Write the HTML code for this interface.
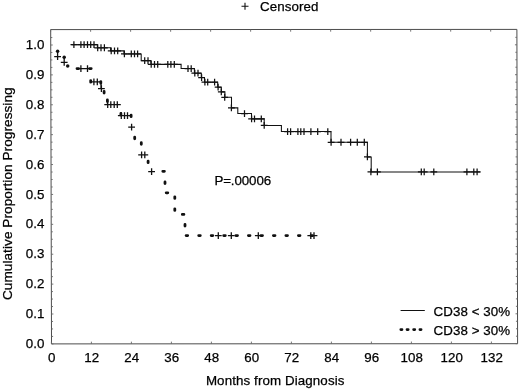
<!DOCTYPE html>
<html><head><meta charset="utf-8"><title>Cumulative Proportion Progressing</title>
<style>html,body{margin:0;padding:0;background:#fff}svg{display:block}text{font-family:"Liberation Sans",Arial,Helvetica,sans-serif;font-size:13.33px;fill:#000;stroke:#000;stroke-width:0.25px}</style></head><body>
<svg width="520" height="389" viewBox="0 0 520 389">
<rect width="520" height="389" fill="#fff"/>
<path d="M50.7 29.6L516.9 29.4L517.6 343.7L51.5 343.9Z" fill="none" stroke="#4c4c4c" stroke-width="1"/>
<path d="M51.40 343.90v-2.2M50.60 29.60v2.2M91.40 343.88v-2.2M90.61 29.58v2.2M131.40 343.87v-2.2M130.62 29.57v2.2M171.40 343.85v-2.2M170.63 29.55v2.2M211.40 343.83v-2.2M210.63 29.53v2.2M251.40 343.81v-2.2M250.64 29.51v2.2M291.40 343.80v-2.2M290.65 29.50v2.2M331.40 343.78v-2.2M330.66 29.48v2.2M371.40 343.76v-2.2M370.67 29.46v2.2M411.40 343.75v-2.2M410.68 29.45v2.2M451.40 343.73v-2.2M450.69 29.43v2.2M491.40 343.71v-2.2M490.69 29.41v2.2M51.50 343.90h2.0M517.60 343.70h-2.0M51.48 336.43h1.6M517.58 336.23h-1.6M51.46 328.95h1.6M517.57 328.75h-1.6M51.44 321.48h1.6M517.55 321.28h-1.6M51.42 314.01h2.0M517.53 313.81h-2.0M51.40 306.54h1.6M517.52 306.34h-1.6M51.39 299.06h1.6M517.50 298.87h-1.6M51.37 291.59h1.6M517.48 291.39h-1.6M51.35 284.12h2.0M517.47 283.92h-2.0M51.33 276.65h1.6M517.45 276.45h-1.6M51.31 269.18h1.6M517.43 268.98h-1.6M51.29 261.70h1.6M517.42 261.50h-1.6M51.27 254.23h2.0M517.40 254.03h-2.0M51.25 246.76h1.6M517.38 246.56h-1.6M51.23 239.28h1.6M517.37 239.09h-1.6M51.21 231.81h1.6M517.35 231.61h-1.6M51.20 224.34h2.0M517.33 224.14h-2.0M51.18 216.87h1.6M517.32 216.67h-1.6M51.16 209.39h1.6M517.30 209.20h-1.6M51.14 201.92h1.6M517.28 201.72h-1.6M51.12 194.45h2.0M517.27 194.25h-2.0M51.10 186.98h1.6M517.25 186.78h-1.6M51.08 179.50h1.6M517.23 179.31h-1.6M51.06 172.03h1.6M517.22 171.83h-1.6M51.04 164.56h2.0M517.20 164.36h-2.0M51.02 157.09h1.6M517.18 156.89h-1.6M51.01 149.61h1.6M517.17 149.42h-1.6M50.99 142.14h1.6M517.15 141.94h-1.6M50.97 134.67h2.0M517.13 134.47h-2.0M50.95 127.20h1.6M517.12 127.00h-1.6M50.93 119.73h1.6M517.10 119.53h-1.6M50.91 112.25h1.6M517.08 112.05h-1.6M50.89 104.78h2.0M517.07 104.58h-2.0M50.87 97.31h1.6M517.05 97.11h-1.6M50.85 89.84h1.6M517.03 89.64h-1.6M50.83 82.36h1.6M517.02 82.16h-1.6M50.82 74.89h2.0M517.00 74.69h-2.0M50.80 67.42h1.6M516.98 67.22h-1.6M50.78 59.95h1.6M516.97 59.75h-1.6M50.76 52.47h1.6M516.95 52.27h-1.6M50.74 45.00h2.0M516.93 44.80h-2.0M50.72 37.53h1.6M516.92 37.33h-1.6" stroke="#666" stroke-width="0.9" fill="none"/>
<text x="44.3" y="348.0" text-anchor="end">0.0</text>
<text x="44.3" y="318.1" text-anchor="end">0.1</text>
<text x="44.3" y="288.2" text-anchor="end">0.2</text>
<text x="44.3" y="258.3" text-anchor="end">0.3</text>
<text x="44.3" y="228.4" text-anchor="end">0.4</text>
<text x="44.3" y="198.6" text-anchor="end">0.5</text>
<text x="44.3" y="168.7" text-anchor="end">0.6</text>
<text x="44.3" y="138.8" text-anchor="end">0.7</text>
<text x="44.3" y="108.9" text-anchor="end">0.8</text>
<text x="44.3" y="79.0" text-anchor="end">0.9</text>
<text x="44.3" y="49.1" text-anchor="end">1.0</text>
<text x="51.7" y="361.5" text-anchor="middle">0</text>
<text x="91.7" y="361.5" text-anchor="middle">12</text>
<text x="131.7" y="361.5" text-anchor="middle">24</text>
<text x="171.7" y="361.5" text-anchor="middle">36</text>
<text x="211.7" y="361.5" text-anchor="middle">48</text>
<text x="251.7" y="361.5" text-anchor="middle">60</text>
<text x="291.7" y="361.5" text-anchor="middle">72</text>
<text x="331.7" y="361.5" text-anchor="middle">84</text>
<text x="371.7" y="361.5" text-anchor="middle">96</text>
<text x="411.7" y="361.5" text-anchor="middle">108</text>
<text x="451.7" y="361.5" text-anchor="middle">120</text>
<text x="491.7" y="361.5" text-anchor="middle">132</text>
<text x="275.2" y="384.6" text-anchor="middle" style="letter-spacing:0.11px">Months from Diagnosis</text>
<text transform="translate(12.3 193.7) rotate(-90)" text-anchor="middle" style="font-size:13.6px;letter-spacing:0.06px">Cumulative Proportion Progressing</text>
<text x="260.0" y="11.2" style="letter-spacing:0.08px">Censored</text>
<path d="M241.5 6.3h7M245 2.8v7" stroke="#111" stroke-width="1.1" fill="none"/>
<text x="214.4" y="185.2" style="letter-spacing:-0.1px">P=.00006</text>
<text x="433.6" y="316.4" style="letter-spacing:0.07px">CD38 &lt; 30%</text>
<text x="433.6" y="335.4" style="letter-spacing:0.07px">CD38 &gt; 30%</text>
<path d="M400.6 310.5H424.8" stroke="#111" stroke-width="1" fill="none"/>
<path d="M400.8 329.6h1.2M407 329.6h1.2M413.6 329.6h1.2M419.9 329.6h1.2" stroke="#111" stroke-width="2.7" stroke-linecap="round" fill="none"/>
<g transform="translate(0 0.25)"><path d="M71.5 44.4H97.4V47.5H110.6V50.6H124V53.7H141.2V60.4H150.9V64.1H181.1V68.3H194.4V72.9H201.3V77.3H204.5V81.9H217.7V86.9H221.3V91.6H224.9V97H231.5V107.6H237.8V113.3H251.5V118.6H264.2V125.2H281.4V131.3H331V142H367.4V156.7H371.2V171.7H480.4" stroke="#111" stroke-width="1.05" fill="none"/>
<path d="M70.5 44.4h6.8M73.9 41.0v6.8M77.5 44.4h6.8M80.9 41.0v6.8M80.7 44.4h6.8M84.1 41.0v6.8M84.1 44.4h6.8M87.5 41.0v6.8M87.3 44.4h6.8M90.7 41.0v6.8M90.6 44.4h6.8M94 41.0v6.8M94.3 47.5h6.8M97.7 44.1v6.8M97.6 47.5h6.8M101 44.1v6.8M101.0 47.5h6.8M104.4 44.1v6.8M107.8 50.6h6.8M111.2 47.2v6.8M111.1 50.6h6.8M114.5 47.2v6.8M114.3 50.6h6.8M117.7 47.2v6.8M121.0 53.7h6.8M124.4 50.3v6.8M127.9 53.7h6.8M131.3 50.3v6.8M131.1 53.7h6.8M134.5 50.3v6.8M134.2 53.7h6.8M137.6 50.3v6.8M141.3 60.4h6.8M144.7 57.0v6.8M144.6 60.4h6.8M148 57.0v6.8M147.8 64.1h6.8M151.2 60.7v6.8M151.1 64.1h6.8M154.5 60.7v6.8M154.3 64.1h6.8M157.7 60.7v6.8M164.4 64.1h6.8M167.8 60.7v6.8M167.5 64.1h6.8M170.9 60.7v6.8M170.9 64.1h6.8M174.3 60.7v6.8M184.6 68.3h6.8M188 64.9v6.8M187.8 68.3h6.8M191.2 64.9v6.8M191.4 72.9h6.8M194.8 69.5v6.8M194.6 72.9h6.8M198 69.5v6.8M198.2 77.3h6.8M201.6 73.9v6.8M201.5 81.9h6.8M204.9 78.5v6.8M204.3 81.9h6.8M207.7 78.5v6.8M211.2 81.9h6.8M214.6 78.5v6.8M214.7 86.9h6.8M218.1 83.5v6.8M217.9 91.6h6.8M221.3 88.2v6.8M221.3 97h6.8M224.7 93.6v6.8M228.0 107.6h6.8M231.4 104.2v6.8M241.1 113.3h6.8M244.5 109.9v6.8M248.2 118.6h6.8M251.6 115.2v6.8M251.1 118.6h6.8M254.5 115.2v6.8M257.9 118.6h6.8M261.3 115.2v6.8M260.8 125.2h6.8M264.2 121.8v6.8M284.2 131.3h6.8M287.6 127.9v6.8M287.2 131.3h6.8M290.6 127.9v6.8M294.5 131.3h6.8M297.9 127.9v6.8M297.4 131.3h6.8M300.8 127.9v6.8M300.6 131.3h6.8M304 127.9v6.8M307.5 131.3h6.8M310.9 127.9v6.8M314.3 131.3h6.8M317.7 127.9v6.8M324.4 131.3h6.8M327.8 127.9v6.8M327.7 142h6.8M331.1 138.6v6.8M337.6 142h6.8M341 138.6v6.8M347.2 142h6.8M350.6 138.6v6.8M353.9 142h6.8M357.3 138.6v6.8M360.9 142h6.8M364.3 138.6v6.8M364.0 156.7h6.8M367.4 153.3v6.8M367.5 171.7h6.8M370.9 168.3v6.8M374.0 171.7h6.8M377.4 168.3v6.8M417.9 171.7h6.8M421.3 168.3v6.8M420.8 171.7h6.8M424.2 168.3v6.8M430.4 171.7h6.8M433.8 168.3v6.8M463.5 171.7h6.8M466.9 168.3v6.8M470.4 171.7h6.8M473.8 168.3v6.8M473.7 171.7h6.8M477.1 168.3v6.8" stroke="#111" stroke-width="1.25" fill="none"/></g>
<path d="M54.2 56.7h6.8M57.6 53.3v6.8M60.8 62.3h6.8M64.2 58.9v6.8M77.5 68.6h6.8M80.9 65.2v6.8M84.1 68.6h6.8M87.5 65.2v6.8M90.5 81.8h6.8M93.9 78.4v6.8M93.9 81.8h6.8M97.3 78.4v6.8M98.0 88.6h6.8M101.4 85.2v6.8M104.3 104.7h6.8M107.7 101.3v6.8M107.4 104.7h6.8M110.8 101.3v6.8M110.8 104.7h6.8M114.2 101.3v6.8M113.9 104.7h6.8M117.3 101.3v6.8M117.9 115.7h6.8M121.3 112.3v6.8M121.1 115.7h6.8M124.5 112.3v6.8M124.1 115.7h6.8M127.5 112.3v6.8M128.2 127.2h6.8M131.6 123.8v6.8M138.2 154.8h6.8M141.6 151.4v6.8M141.4 154.8h6.8M144.8 151.4v6.8M148.2 171.6h6.8M151.6 168.2v6.8M214.9 235.6h6.8M218.3 232.2v6.8M227.9 235.6h6.8M231.3 232.2v6.8M254.9 235.6h6.8M258.3 232.2v6.8M307.4 235.6h6.8M310.8 232.2v6.8M310.6 235.6h6.8M314 232.2v6.8M57.6 51V57M64.2 57V62.3M76 68.6H91.5M90.8 81.8H100.8M101 82V89M107.5 101V105M104.5 104.7H120.8M118.5 115.7H131" stroke="#111" stroke-width="1.3" fill="none"/>
<path d="M90.7 80.6v1.6M100.8 81.6v1.6M104.1 91.5v1.6M107.4 100.0v1.6M120.9 113.4v1.6M131.1 115.1v1.6M134.7 137.2v1.6M141.3 142.7v1.6M148.1 161.1v1.6M165 181.9v1.6M174.8 196.8v1.6M174.8 208.8v1.6M185 224.4v1.6M77.0 68.6h1.6M89.6 68.6h1.6M162.8 171.3h1.6M166.2 192.8h1.6M182.3 214.4h1.6M186.1 235.6h1.6M198.7 235.6h1.6M211.2 235.6h1.6M223.7 235.6h1.6M235.9 235.6h1.6M248.4 235.6h1.6M260.9 235.6h1.6M273.4 235.6h1.6M285.9 235.6h1.6M298.4 235.6h1.6M311.0 235.6h1.6" stroke="#111" stroke-width="2.8" stroke-linecap="round" fill="none"/>
<circle cx="57.6" cy="51.2" r="1.75" fill="#111"/><circle cx="64.2" cy="57.2" r="1.75" fill="#111"/><circle cx="67.7" cy="66.1" r="1.75" fill="#111"/>
</svg></body></html>
